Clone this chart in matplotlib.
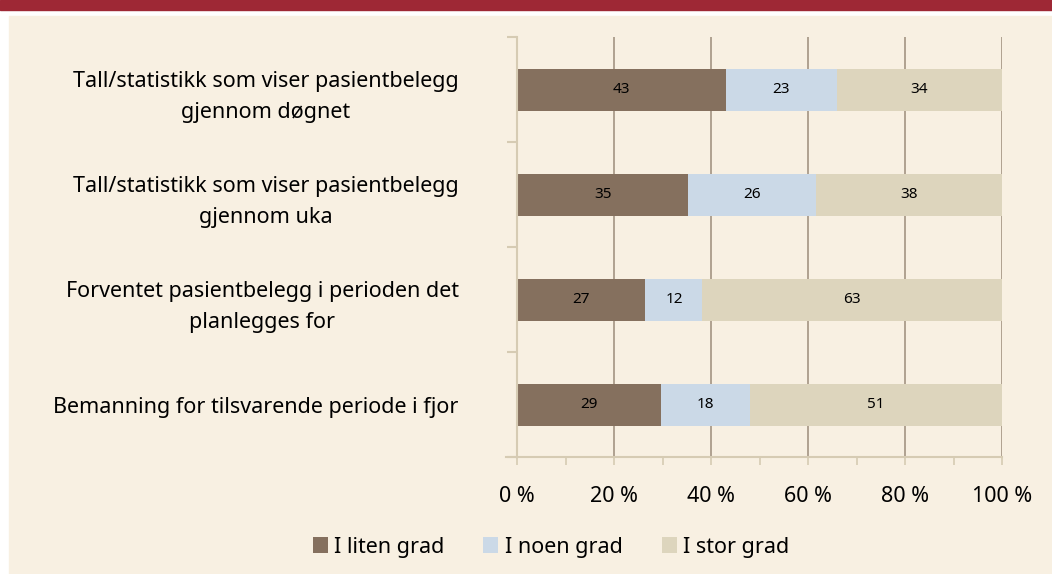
import numpy as np
import matplotlib.pyplot as plt
from matplotlib.patches import Rectangle

categories = [
    "Tall/statistikk som viser pasientbelegg\ngjennom døgnet",
    "Tall/statistikk som viser pasientbelegg\ngjennom uka",
    "Forventet pasientbelegg i perioden det\nplanlegges for",
    "Bemanning for tilsvarende periode i fjor",
]
series_names = ["I liten grad", "I noen grad", "I stor grad"]
liten = [43, 35, 27, 29]
noen = [23, 26, 12, 18]
stor = [34, 38, 63, 51]
x_ticks = [0, 20, 40, 60, 80, 100]
x_tick_labels = ["0 %", "20 %", "40 %", "60 %", "80 %", "100 %"]

colors = ["#85705E", "#CBD9E7", "#DDD5BD"]
cream = "#F8F0E2"
tan = "#D6CBB3"
grid_col = "#9C8C7A"

plt.rcParams["font.family"] = ["Noto Sans", "DejaVu Sans"]
fs = 15.5

fig = plt.figure(figsize=(10.52, 5.74), dpi=100, facecolor="white")
W, H = 1052, 574
# background panel and red header band
fig.patches.append(Rectangle((9 / W, 0), 1, 1 - 16 / H, transform=fig.transFigure,
                             color=cream, zorder=-10))
fig.patches.append(Rectangle((0, 1 - 10 / H), 1, 10 / H, transform=fig.transFigure,
                             color="#9E2835", zorder=-10))

ax = fig.add_axes([517 / W, 1 - 457 / H, (1002 - 517) / W, (457 - 37) / H])
ax.set_facecolor(cream)

data = np.array([liten, noen, stor], dtype=float)
totals = data.sum(axis=0)
shares = data / totals * 100
y = np.arange(len(categories))

left = np.zeros(len(categories))
for i, name in enumerate(series_names):
    bars = ax.barh(y, shares[i], left=left, height=0.4, color=colors[i],
                   label=name, zorder=2)
    for b, v in zip(bars, data[i]):
        ax.text(b.get_x() + b.get_width() / 2, b.get_y() + b.get_height() / 2,
                f"{int(v)}", ha="center", va="center", fontsize=11,
                color="black", zorder=3)
    left += shares[i]

ax.set_xlim(0, 100)
ax.set_ylim(len(categories) - 0.5, -0.5)

for s in ["top", "right"]:
    ax.spines[s].set_visible(False)
ax.spines["left"].set_color(tan)
ax.spines["left"].set_linewidth(1.5)
ax.spines["bottom"].set_color(tan)
ax.spines["bottom"].set_linewidth(1.5)
ax.spines["bottom"].set_bounds(-2.3, 100)

ax.set_xticks(x_ticks)
ax.set_xticklabels(x_tick_labels, fontsize=fs)
ax.set_xticks(np.arange(10, 100, 20), minor=True)
ax.tick_params(axis="x", which="both", length=6, color=tan, width=1.2, pad=15)

ax.set_yticks(y)
ax.set_yticklabels(categories, fontsize=fs, multialignment="center", linespacing=1.65)
ax.set_yticks(np.arange(-0.5, len(categories)), minor=True)
ax.tick_params(axis="y", which="major", length=0, pad=42)
ax.tick_params(axis="y", which="minor", length=7, color=tan, width=1.5)

for gx in [20, 40, 60, 80, 100]:
    ax.axvline(gx, color=grid_col, lw=1.1, zorder=1)

leg = fig.legend(loc="center", bbox_to_anchor=(551 / W, 1 - 547 / H), ncol=3,
                 frameon=False, fontsize=fs, handlelength=0.7, handleheight=0.7,
                 handletextpad=0.3, columnspacing=1.8)

fig.savefig("out.png", dpi=100, facecolor=fig.get_facecolor())
